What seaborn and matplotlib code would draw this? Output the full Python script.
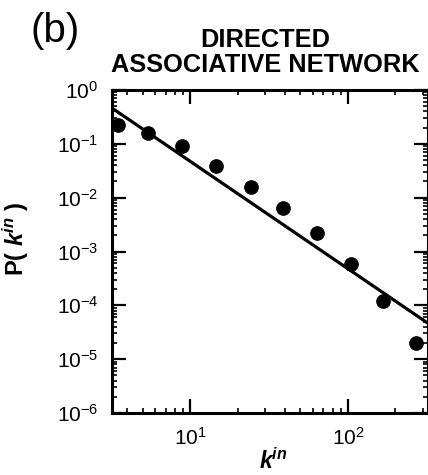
import matplotlib
matplotlib.use("Agg")
import matplotlib.pyplot as plt
import seaborn as sns
import pandas as pd

# in-degree distribution
k_in = [3.5, 5.4, 8.9, 14.6, 24.2, 38.6, 63.4, 104, 166, 270]
p_k = [0.22, 0.157, 0.091, 0.039, 0.0155, 0.0064, 0.0022, 5.8e-4, 1.2e-4, 2.0e-5]

# power-law fit line (slope about -2), end points
fit_k = [3.2, 320]
fit_p = [0.46, 4.7e-5]

sns.set_theme(style="ticks")
plt.rcParams['font.family'] = ['Liberation Sans', 'DejaVu Sans']
plt.rcParams['mathtext.fontset'] = 'custom'
plt.rcParams['mathtext.rm'] = 'Liberation Sans'
plt.rcParams['mathtext.it'] = 'Liberation Sans:italic'
plt.rcParams['mathtext.bf'] = 'Liberation Sans:bold'
plt.rcParams['mathtext.bfit'] = 'Liberation Sans:bold:italic'
plt.rcParams['text.color'] = 'black'
plt.rcParams['axes.labelcolor'] = 'black'
plt.rcParams['xtick.color'] = 'black'
plt.rcParams['ytick.color'] = 'black'

df = pd.DataFrame({'k': k_in, 'p': p_k})
fit = pd.DataFrame({'k': fit_k, 'p': fit_p})

fig = plt.figure(figsize=(4.28, 4.75), dpi=100)
ax = fig.add_axes([0.262, 0.1305, 0.737, 0.68])

sns.lineplot(data=fit, x='k', y='p', ax=ax, color='black', linewidth=2.3)
sns.scatterplot(data=df, x='k', y='p', ax=ax, color='black', s=95,
                edgecolor='black', zorder=3, clip_on=False)

ax.set_xscale('log')
ax.set_yscale('log')
ax.set_xlim(3.2, 320)
ax.set_ylim(1e-6, 1)
ax.set_yticks([10.0 ** e for e in range(-6, 1)])

for s in ax.spines.values():
    s.set_linewidth(2.2)
    s.set_color('black')
ax.tick_params(which='both', direction='in', top=True, right=True, color='black')
ax.tick_params(which='major', length=10, width=1.6, labelsize=15, pad=10)
ax.tick_params(which='minor', length=3.5, width=1.2)

ax.set_xlabel(r'$\mathbfit{k}^{\mathbfit{in}}$', fontsize=16.5)
ax.xaxis.set_label_coords(0.51, -0.108)
ax.set_ylabel(r'P( $\mathbfit{k}^{\mathbfit{in}}$ )', fontsize=17,
              fontweight='bold')
ax.yaxis.set_label_coords(-0.257, 0.54)
ax.set_title('DIRECTED\nASSOCIATIVE NETWORK', fontsize=18.3,
             fontweight='bold', linespacing=1.05, pad=13, x=0.485)
fig.text(0.072, 0.935, '(b)', fontsize=29, va='center', ha='left')

fig.savefig('out.png', dpi=100)
